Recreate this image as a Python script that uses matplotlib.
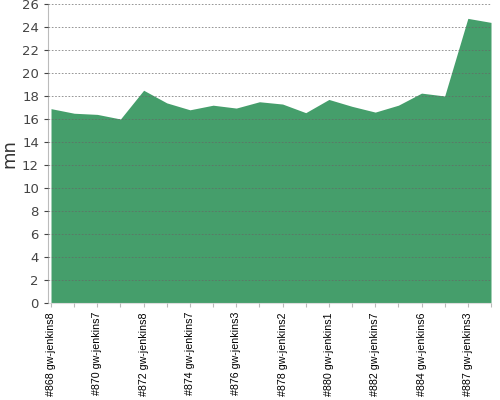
import matplotlib.pyplot as plt

# build numbers, hosts and durations (minutes)
builds = [868, 869, 870, 871, 872, 873, 874, 875, 876, 877,
          878, 879, 880, 881, 882, 883, 884, 885, 887, 888]
hosts = ['gw-jenkins8', 'gw-jenkins8', 'gw-jenkins7', 'gw-jenkins7', 'gw-jenkins8',
         'gw-jenkins8', 'gw-jenkins7', 'gw-jenkins7', 'gw-jenkins3', 'gw-jenkins3',
         'gw-jenkins2', 'gw-jenkins2', 'gw-jenkins1', 'gw-jenkins1', 'gw-jenkins7',
         'gw-jenkins7', 'gw-jenkins6', 'gw-jenkins6', 'gw-jenkins3', 'gw-jenkins3']
durations = [16.9, 16.5, 16.4, 16.0, 18.5, 17.4, 16.8, 17.2, 16.95, 17.5,
             17.3, 16.55, 17.7, 17.1, 16.6, 17.2, 18.25, 18.0, 24.75, 24.4]

labels = ['#%d %s' % (b, h) for b, h in zip(builds, hosts)]
x = list(range(len(durations)))

fig = plt.figure(figsize=(5, 4), dpi=100)
ax = fig.add_axes([0.096, 0.2425, 0.886, 0.7475])

ax.fill_between(x, durations, 0, color='#459e6b', linewidth=0)

ax.set_xlim(-0.13, len(x) - 1)
ax.set_ylim(0, 26)
ax.set_yticks(range(0, 27, 2))
ax.set_xticks(x)
ax.set_xticklabels([l if i % 2 == 0 else '' for i, l in enumerate(labels)],
                   rotation=90, fontsize=7.7, family='Liberation Sans')
ax.tick_params(axis='y', labelsize=9.5, colors='#444444', length=3, width=0.8)
ax.tick_params(axis='x', colors='#bbbbbb', labelcolor='black', length=3, width=0.8)
for t in ax.get_yticklabels():
    t.set_color('#444444')

ax.grid(axis='y', color='#666666', linestyle=(0, (2, 2)), linewidth=0.6, alpha=0.8)
ax.set_axisbelow(False)
for s in ['top', 'right']:
    ax.spines[s].set_visible(False)
ax.spines['left'].set_color('#bbbbbb')
ax.spines['bottom'].set_color('#dddddd')

ax.set_ylabel('mn', fontsize=13, color='#333333')
ax.yaxis.set_label_coords(-0.066, 0.5)

fig.savefig('out.png', dpi=100)
